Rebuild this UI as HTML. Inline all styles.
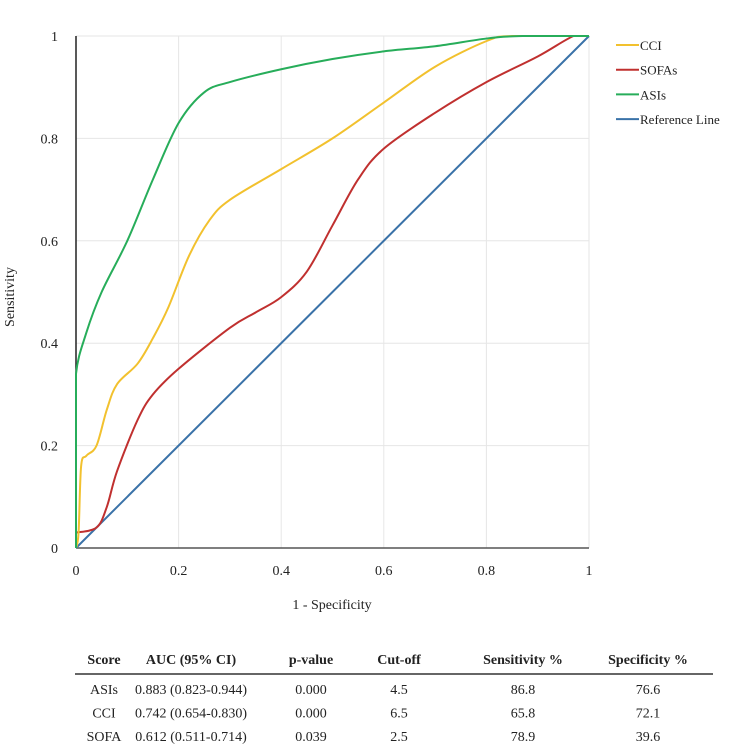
<!DOCTYPE html>
<html><head><meta charset="utf-8"><style>
body{margin:0;background:#fff;width:751px;height:753px;overflow:hidden;font-family:"Liberation Serif",serif}
svg{position:absolute;left:0;top:0}
</style></head><body>
<svg id="chart" width="751" height="753"></svg>
<script>
const ticks=[0,0.2,0.4,0.6,0.8,1];
const tickLabels=["0","0.2","0.4","0.6","0.8","1"];
const asiX=[0,0,0,0.02,0.05,0.1,0.15,0.2,0.25,0.3,0.4,0.5,0.6,0.7,0.8,0.87,1];
const asiY=[0,0.22,0.34,0.42,0.5,0.6,0.72,0.83,0.89,0.91,0.935,0.955,0.97,0.98,0.995,1,1];
const cciX=[0,0.005,0.01,0.02,0.04,0.06,0.08,0.12,0.15,0.18,0.22,0.26,0.3,0.4,0.5,0.6,0.7,0.8,0.85,1];
const cciY=[0,0.03,0.16,0.18,0.2,0.27,0.32,0.36,0.41,0.47,0.57,0.64,0.68,0.74,0.8,0.87,0.94,0.99,1,1];
const sofaX=[0,0.04,0.06,0.08,0.12,0.15,0.2,0.3,0.35,0.4,0.45,0.5,0.55,0.6,0.7,0.8,0.9,0.97,1];
const sofaY=[0.03,0.04,0.08,0.15,0.25,0.3,0.35,0.43,0.46,0.49,0.54,0.63,0.72,0.78,0.85,0.91,0.96,1,1];
const refX=[0,1], refY=[0,1];
const tableHead=["Score","AUC (95% CI)","p-value","Cut-off","Sensitivity %","Specificity %"];
const tableRows=[["ASIs","0.883 (0.823-0.944)","0.000","4.5","86.8","76.6"],["CCI","0.742 (0.654-0.830)","0.000","6.5","65.8","72.1"],["SOFA","0.612 (0.511-0.714)","0.039","2.5","78.9","39.6"]];

const NS="http://www.w3.org/2000/svg",svg=document.getElementById('chart');
const X0=76,X1=589,Y0=548,Y1=36;
const sx=v=>X0+v*(X1-X0), sy=v=>Y0-v*(Y0-Y1);
function mk(t,a,txt){const e=document.createElementNS(NS,t);for(const k in a)e.setAttribute(k,a[k]);if(txt!=null)e.textContent=txt;svg.appendChild(e);return e;}
ticks.forEach((t,i)=>{
 let g=mk('line',{x1:sx(t),x2:sx(t),y1:Y1,y2:Y0,stroke:'#e6e6e6','stroke-width':1});
 
 g=mk('line',{x1:X0,x2:X1,y1:sy(t),y2:sy(t),stroke:'#e6e6e6','stroke-width':1});
 
 let l=mk('text',{x:sx(t),y:Y0+27,'text-anchor':'middle','font-size':14,fill:'#222'},tickLabels[i]);
 
 l=mk('text',{x:X0-18,y:sy(t)+5,'text-anchor':'end','font-size':14,fill:'#222'},tickLabels[i]);
 
});
let a=mk('line',{x1:X0,x2:X0,y1:Y1,y2:Y0,stroke:'#222','stroke-width':1.5});
a=mk('line',{x1:X0,x2:X1,y1:Y0,y2:Y0,stroke:'#555','stroke-width':1.5});
const cx=v=>Math.min(X1,Math.max(X0,v)), cy=v=>Math.min(Y0,Math.max(Y1,v));
function path(xs,ys){const p=xs.map((x,i)=>[sx(x),sy(ys[i])]);let d='M'+p[0][0]+','+p[0][1];
 for(let i=0;i<p.length-1;i++){const p0=p[i-1]||p[i],p1=p[i],p2=p[i+1],p3=p[i+2]||p2;
  d+=` C${cx(p1[0]+(p2[0]-p0[0])/6)},${cy(p1[1]+(p2[1]-p0[1])/6)} ${cx(p2[0]-(p3[0]-p1[0])/6)},${cy(p2[1]-(p3[1]-p1[1])/6)} ${p2[0]},${p2[1]}`;}return d;}
const series=[[refX,refY,'#3a72a8','reference-line-curve'],[sofaX,sofaY,'#c0302f','sofa-curve'],[cciX,cciY,'#f2c12e','cci-curve'],[asiX,asiY,'#27ad5a','asi-curve']];
series.forEach(s=>{const e=mk('path',{d:path(s[0],s[1]),fill:'none',stroke:s[2],'stroke-width':2});
 });
const leg=[['CCI','#f2c12e'],['SOFAs','#c0302f'],['ASIs','#27ad5a'],['Reference Line','#3a72a8']];
leg.forEach((l,i)=>{const y=45+i*24.7;
 let e=mk('line',{x1:616,x2:639,y1:y,y2:y,stroke:l[1],'stroke-width':2});
 e=mk('text',{x:640,y:y+5,'font-size':13,fill:'#222'},l[0]);});
let t=mk('text',{x:332,y:609,'text-anchor':'middle','font-size':14,fill:'#222'},'1 - Specificity');
t=mk('text',{x:14,y:297,'text-anchor':'middle','font-size':14,fill:'#222',transform:'rotate(-90 14 297)'},'Sensitivity');
const cols=[104,191,311,399,523,648];
tableHead.forEach((h,i)=>{const e=mk('text',{x:cols[i],y:664,'text-anchor':'middle','font-size':14,'font-weight':'bold',fill:'#222'},h);});
let r=mk('line',{x1:75,x2:713,y1:674,y2:674,stroke:'#333','stroke-width':1.5});
tableRows.forEach((row,j)=>row.forEach((c,i)=>{const e=mk('text',{x:cols[i],y:694+j*23.5,'text-anchor':'middle','font-size':14,fill:'#222'},c);}));
</script>
</body></html>
